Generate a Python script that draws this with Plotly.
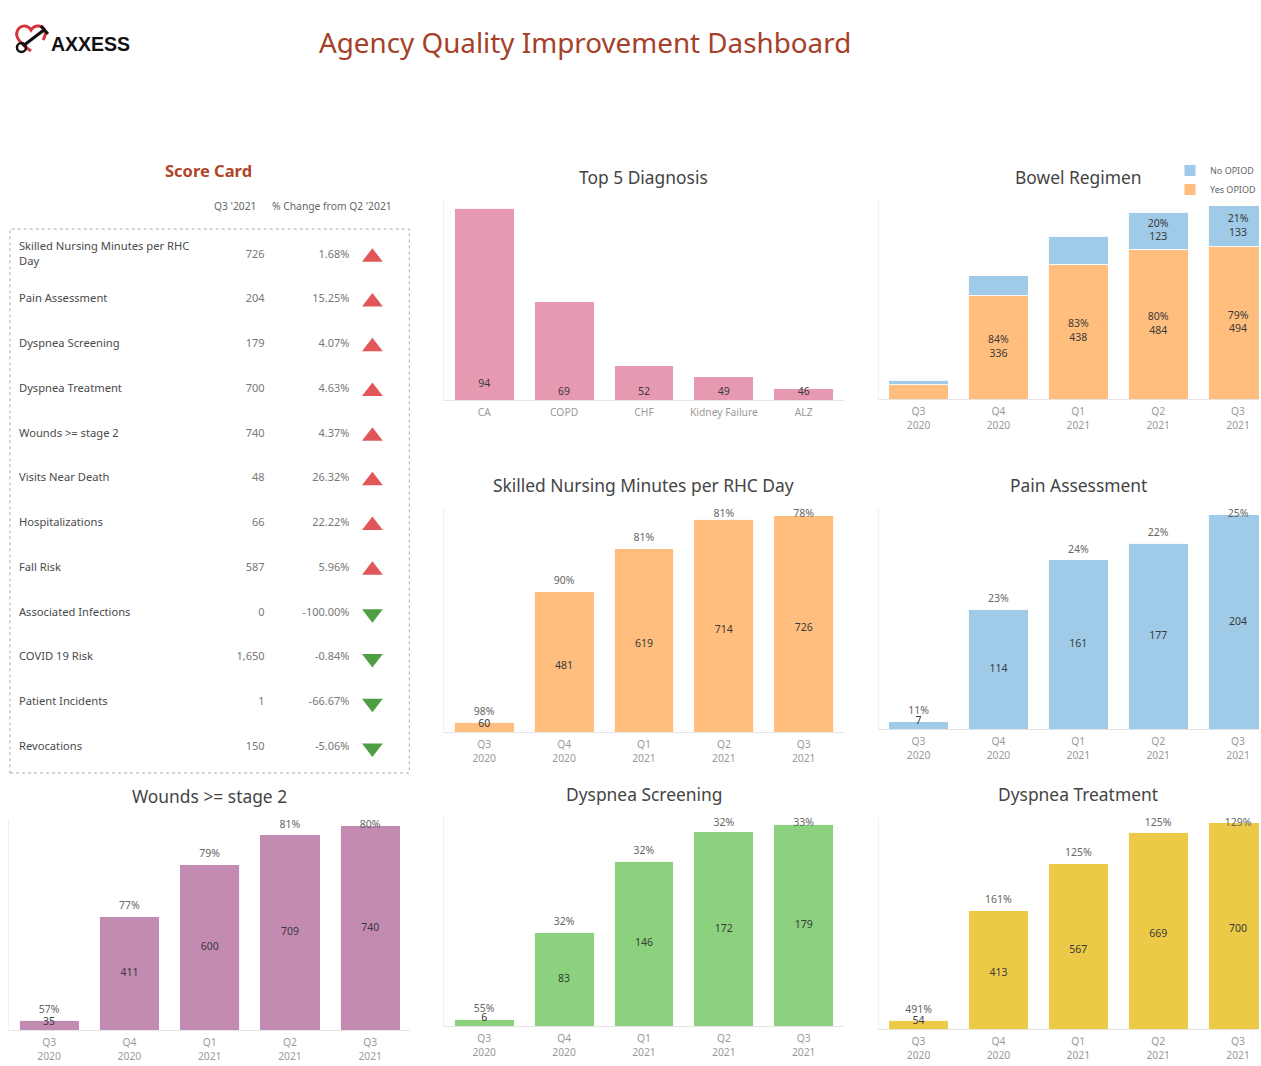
import plotly.graph_objects as go

W, H = 1261, 1066
def fx(x): return x / W
def fy(y): return 1 - y / H

FONT = "Noto Sans, Open Sans, DejaVu Sans, sans-serif"
TITLE_RUST = "#a5402a"

# ---------------- data ----------------
quarters = ["Q3<br>2020", "Q4<br>2020", "Q1<br>2021", "Q2<br>2021", "Q3<br>2021"]

diag_cats = ["CA", "COPD", "CHF", "Kidney Failure", "ALZ"]
diag_vals = [94, 69, 52, 49, 46]

bowel_yes = [46, 336, 438, 484, 494]
bowel_no = [15, 64, 90, 123, 133]

nursing_vals = [60, 481, 619, 714, 726]
nursing_pct = ["98%", "90%", "81%", "81%", "78%"]

pain_vals = [7, 114, 161, 177, 204]
pain_pct = ["11%", "23%", "24%", "22%", "25%"]

wounds_vals = [35, 411, 600, 709, 740]
wounds_pct = ["57%", "77%", "79%", "81%", "80%"]

dysps_vals = [6, 83, 146, 172, 179]
dysps_pct = ["55%", "32%", "32%", "32%", "33%"]

dyspt_vals = [54, 413, 567, 669, 700]
dyspt_pct = ["491%", "161%", "125%", "125%", "129%"]

sc_metrics = ["Skilled Nursing Minutes per RHC<br>Day", "Pain Assessment", "Dyspnea Screening",
              "Dyspnea Treatment", "Wounds >= stage 2", "Visits Near Death", "Hospitalizations",
              "Fall Risk", "Associated Infections", "COVID 19 Risk", "Patient Incidents", "Revocations"]
sc_q3 = [726, 204, 179, 700, 740, 48, 66, 587, 0, 1650, 1, 150]
sc_change = [1.68, 15.25, 4.07, 4.63, 4.37, 26.32, 22.22, 5.96, -100.00, -0.84, -66.67, -5.06]

# ---------------- layout specs (pixels) ----------------
# (left, right, baseline, top, axis_min, px_per_unit)
SPEC = {
    "diag":    (445, 845, 400, 198, 42.8, 3.75),
    "bowel":   (880, 1280, 399, 198, 0, 0.308),
    "nursing": (445, 845, 732, 508, 28, 0.31),
    "pain":    (880, 1280, 729, 508, 0, 1.05),
    "wounds":  (9, 411, 1030, 819, 0, 0.2757),
    "dysps":   (445, 845, 1026, 817, 0, 1.128),
    "dyspt":   (880, 1280, 1029, 817, 24.5, 0.305),
}

fig = go.Figure()
layout = dict(width=W, height=H, margin=dict(l=0, r=0, t=0, b=0),
              paper_bgcolor="white", plot_bgcolor="white",
              barmode="stack", bargap=0.25, font=dict(family=FONT, color="#555"),
              annotations=[], shapes=[])

def ann(text, xc, yc, size, color, xanchor="center", family=FONT):
    layout["annotations"].append(dict(text=text, x=fx(xc), y=fy(yc), xref="paper", yref="paper",
                                      showarrow=False, xanchor=xanchor, yanchor="middle",
                                      font=dict(size=size, color=color, family=family)))

def add_axes(n, spec, cats):
    xl, xr, base, top, v0, a = spec
    xr_vis = min(xr, W)
    rng_r = -0.5 + len(cats) * (xr_vis - xl) / (xr - xl)
    layout[f"xaxis{n}"] = dict(domain=[fx(xl), fx(xr_vis)], range=[-0.5, rng_r], type="category",
                               anchor=f"y{n}", showgrid=False, zeroline=False, showline=True,
                               linecolor="#e4e4e4", linewidth=1, ticks="outside", ticklen=3,
                               tickcolor="rgba(0,0,0,0)",
                               tickfont=dict(size=10.3, color="#9a9a9a", family=FONT),
                               fixedrange=True)
    layout[f"yaxis{n}"] = dict(domain=[fy(base), fy(top)], range=[v0, v0 + (base - top) / a],
                               anchor=f"x{n}", showgrid=False, zeroline=False, showline=True,
                               linecolor="#f0f0f0", showticklabels=False, ticks="", fixedrange=True)

def mid_label_y(vals, spec):
    # centre of the full bar, kept inside the visible plot area
    xl, xr, base, top, v0, a = spec
    out = []
    for v in vals:
        pxc = min(base - a * (v / 2 - v0), base - 8)
        out.append(v0 + (base - pxc) / a)
    return out

def add_title(text, xc, yc):
    ann(text, xc, yc, 17.4, "#444")

def quarter_panel(n, key, vals, pct, color, title):
    spec = SPEC[key]
    xl, xr, base, top, v0, a = spec
    add_axes(n, spec, quarters)
    fig.add_trace(go.Bar(x=quarters, y=vals, marker=dict(color=color, line=dict(color="rgba(255,255,255,0.9)", width=1)),
                         xaxis=f"x{n}", yaxis=f"y{n}", showlegend=False, hoverinfo="skip"))
    fig.add_trace(go.Scatter(x=quarters, y=mid_label_y(vals, spec), mode="text", text=[str(v) for v in vals],
                             textposition="middle center", textfont=dict(size=10.5, color="#3a3a3a", family=FONT),
                             xaxis=f"x{n}", yaxis=f"y{n}", showlegend=False, hoverinfo="skip", cliponaxis=False))
    ptop = []
    for v in vals:
        pxc = max(base - a * (v - v0) - 10, top + 6)
        ptop.append(v0 + (base - pxc) / a)
    fig.add_trace(go.Scatter(x=quarters, y=ptop, mode="text", text=pct,
                             textposition="middle center", textfont=dict(size=10.5, color="#666", family=FONT),
                             xaxis=f"x{n}", yaxis=f"y{n}", showlegend=False, hoverinfo="skip", cliponaxis=False))
    add_title(title, (xl + xr) / 2, top - 23)

# ---- Top 5 Diagnosis ----
sp = SPEC["diag"]
add_axes(1, sp, diag_cats)
fig.add_trace(go.Bar(x=diag_cats, y=diag_vals, marker=dict(color="#e799b1", line=dict(color="rgba(255,255,255,0.9)", width=1)),
                     xaxis="x1", yaxis="y1", showlegend=False, hoverinfo="skip"))
fig.add_trace(go.Scatter(x=diag_cats, y=mid_label_y(diag_vals, sp), mode="text",
                         text=[str(v) for v in diag_vals], textposition="middle center",
                         textfont=dict(size=10.5, color="#3a3a3a", family=FONT),
                         xaxis="x1", yaxis="y1", showlegend=False, hoverinfo="skip", cliponaxis=False))
add_title("Top 5 Diagnosis", 645, 177)

# ---- Bowel Regimen ----
sp = SPEC["bowel"]
add_axes(2, sp, quarters)
fig.add_trace(go.Bar(x=quarters, y=bowel_yes, name="Yes OPIOD",
                     marker=dict(color="#ffbe7d", line=dict(color="rgba(255,255,255,0.9)", width=1)),
                     xaxis="x2", yaxis="y2", hoverinfo="skip"))
fig.add_trace(go.Bar(x=quarters, y=bowel_no, name="No OPIOD",
                     marker=dict(color="#a0cbe8", line=dict(color="rgba(255,255,255,0.9)", width=1)),
                     xaxis="x2", yaxis="y2", hoverinfo="skip"))
tot = [y + n for y, n in zip(bowel_yes, bowel_no)]
yes_txt = [f"{round(y / t * 100)}%<br>{y}" if y * sp[5] > 30 else "" for y, t in zip(bowel_yes, tot)]
no_txt = [f"{round(n / t * 100)}%<br>{n}" if n * sp[5] > 32 else "" for n, t in zip(bowel_no, tot)]
fig.add_trace(go.Scatter(x=quarters, y=[y / 2 for y in bowel_yes], mode="text", text=yes_txt,
                         textposition="middle center", textfont=dict(size=10.5, color="#3a3a3a", family=FONT),
                         xaxis="x2", yaxis="y2", showlegend=False, hoverinfo="skip", cliponaxis=False))
fig.add_trace(go.Scatter(x=quarters, y=[y + n / 2 for y, n in zip(bowel_yes, bowel_no)], mode="text", text=no_txt,
                         textposition="middle center", textfont=dict(size=10.5, color="#3a3a3a", family=FONT),
                         xaxis="x2", yaxis="y2", showlegend=False, hoverinfo="skip", cliponaxis=False))
add_title("Bowel Regimen", 1080, 177)
layout["legend"] = dict(x=fx(1172), y=fy(156), xanchor="left", yanchor="top", traceorder="reversed",
                        font=dict(size=9, color="#666", family=FONT), bgcolor="rgba(0,0,0,0)",
                        itemwidth=30, tracegroupgap=0)

quarter_panel(3, "nursing", nursing_vals, nursing_pct, "#ffbe7d", "Skilled Nursing Minutes per RHC Day")
quarter_panel(4, "pain", pain_vals, pain_pct, "#a0cbe8", "Pain Assessment")
quarter_panel(5, "wounds", wounds_vals, wounds_pct, "#c38bb2", "Wounds >= stage 2")
quarter_panel(6, "dysps", dysps_vals, dysps_pct, "#8cd17d", "Dyspnea Screening")
quarter_panel(7, "dyspt", dyspt_vals, dyspt_pct, "#edc948", "Dyspnea Treatment")

# ---- Score card ----
rows = list(range(len(sc_metrics)))
layout["xaxis8"] = dict(domain=[fx(10), fx(410)], range=[0, 400], anchor="y8", visible=False, fixedrange=True)
layout["yaxis8"] = dict(domain=[fy(773), fy(229)], range=[11.58, -0.58], anchor="x8", visible=False, fixedrange=True)
fig.add_trace(go.Scatter(x=[9] * len(rows), y=rows, mode="text", text=sc_metrics, textposition="middle right",
                         textfont=dict(size=11.2, color="#4a4a4a", family=FONT),
                         xaxis="x8", yaxis="y8", showlegend=False, hoverinfo="skip", cliponaxis=False))
fig.add_trace(go.Scatter(x=[255] * len(rows), y=rows, mode="text", text=[f"{v:,}" for v in sc_q3],
                         textposition="middle left", textfont=dict(size=11, color="#777", family=FONT),
                         xaxis="x8", yaxis="y8", showlegend=False, hoverinfo="skip", cliponaxis=False))
fig.add_trace(go.Scatter(x=[340] * len(rows), y=rows, mode="text", text=[f"{v:.2f}%" for v in sc_change],
                         textposition="middle left", textfont=dict(size=11, color="#777", family=FONT),
                         xaxis="x8", yaxis="y8", showlegend=False, hoverinfo="skip", cliponaxis=False))
fig.add_trace(go.Scatter(x=[363] * len(rows), y=[r + 0.05 if c > 0 else r + 0.02 for r, c in zip(rows, sc_change)],
                         mode="markers",
                         marker=dict(symbol=["triangle-up" if c > 0 else "triangle-down" for c in sc_change],
                                     color=["#e15759" if c > 0 else "#4e9f44" for c in sc_change], size=18,
                                     line=dict(width=0)),
                         xaxis="x8", yaxis="y8", showlegend=False, hoverinfo="skip", cliponaxis=False))
layout["shapes"].append(dict(type="rect", xref="paper", yref="paper", x0=fx(10), x1=fx(410), y0=fy(773), y1=fy(229),
                             line=dict(color="#aaaaaa", width=1, dash="dot"), fillcolor="rgba(0,0,0,0)"))
ann("<b>Score Card</b>", 209, 170, 16.5, "#b0452a")
ann("Q3 '2021", 236, 206, 10.3, "#666")
ann("% Change from Q2 '2021", 333, 206, 10.3, "#666")

# ---- header ----
ann("Agency Quality Improvement Dashboard", 586, 42, 27.8, TITLE_RUST)
ann("<b>AXXESS</b>", 49, 44, 19.5, "#111", xanchor="left", family="Liberation Sans, Arial, sans-serif")

def ppath(s):
    t = s.split()
    out, i = [], 0
    while i < len(t):
        if t[i].isalpha():
            out.append(t[i]); i += 1
        else:
            out.append(f"{fx(float(t[i])):.5f},{fy(float(t[i + 1])):.5f}"); i += 2
    return " ".join(out)

layout["shapes"].append(dict(type="path", xref="paper", yref="paper",
                             path=ppath("M 31 51 C 21 44 15 38 17 32 C 19 25 27 24 31 30 C 35 24 43 25 45 31 C 46 34 45 37 43 40"),
                             line=dict(color="#d8323c", width=3)))
layout["shapes"].append(dict(type="line", xref="paper", yref="paper", x0=fx(23), y0=fy(46), x1=fx(44), y1=fy(30),
                             line=dict(color="#111", width=3)))
layout["shapes"].append(dict(type="circle", xref="paper", yref="paper", x0=fx(17), y0=fy(52), x1=fx(26), y1=fy(43),
                             line=dict(color="#111", width=2.5)))
layout["shapes"].append(dict(type="line", xref="paper", yref="paper", x0=fx(41), y0=fy(26), x1=fx(48), y1=fy(34),
                             line=dict(color="#111", width=3)))

fig.update_layout(**layout)
fig.write_html("out.html", config={"displayModeBar": False},
               post_script="document.body.style.margin='0';")
